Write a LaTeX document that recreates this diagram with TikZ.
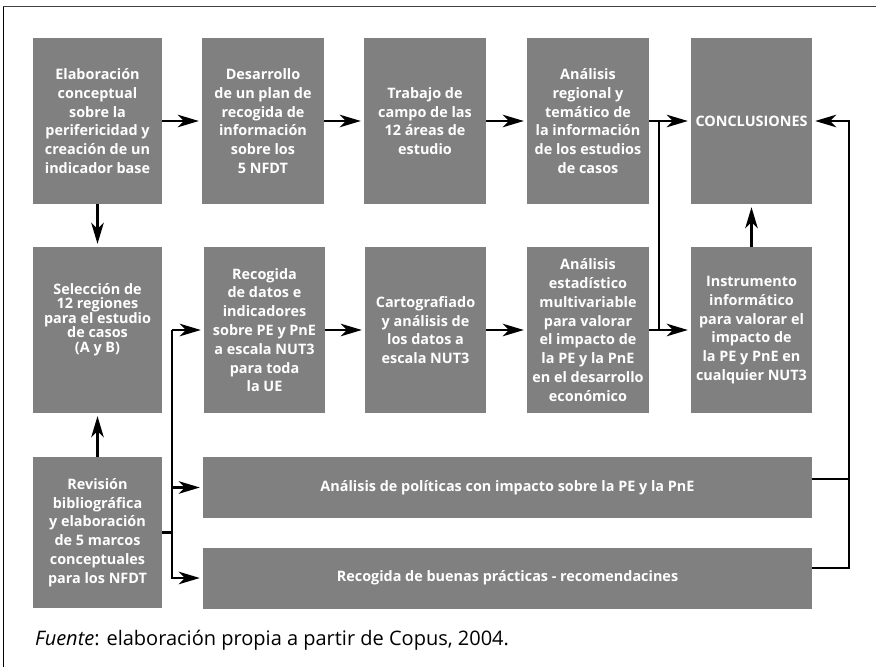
\documentclass[tikz,border=0pt]{standalone}
\usepackage{fontspec}
\setmainfont{Open Sans}
\usetikzlibrary{arrows.meta}
\definecolor{boxgray}{HTML}{808080}
\definecolor{framegray}{HTML}{404040}
\tikzset{
  box/.style={fill=boxgray, text=white, inner sep=0pt, align=center,
    font=\bfseries\fontsize{14.4}{18.8}\selectfont},
  narrowbox/.style={box, minimum width=122pt, minimum height=166pt},
  widebox/.style={box, minimum width=129pt, minimum height=166pt},
  longbox/.style={box, minimum width=609pt, minimum height=61pt},
  conn/.style={line width=2.3pt, line join=miter},
  arr/.style={conn, -{Stealth[length=21pt, width=12.5pt, inset=6pt]}, shorten >=3pt},
}
\begin{document}
\begin{tikzpicture}[x=1pt, y=-1pt]
\useasboundingbox (0,0) rectangle (876,667);
% frame
\draw[framegray, line width=1.6pt] (3.3,6.5) -- (876,6.5);
\draw[black, line width=1pt] (3.3,6.5) -- (3.3,667);

% first row
\node[widebox]  (b1) at (97.5,121) {Elaboración\\conceptual\\sobre la\\perifericidad y\\creación de un\\indicador base};
\node[narrowbox] (b2) at (263,121) {Desarrollo\\de un plan de\\recogida de\\información\\sobre los\\5 NFDT};
\node[narrowbox] (b3) at (425,121) {Trabajo de\\campo de las\\12 áreas de\\estudio};
\node[narrowbox] (b4) at (588,121) {Análisis\\regional y\\temático de\\la información\\de los estudios\\de casos};
\node[narrowbox, minimum width=121pt] (b5) at (751.5,121) {CONCLUSIONES};

% second row
\node[widebox]  (b6) at (97.5,330) {};
\node[box, font=\bfseries\fontsize{14.4}{14.5}\selectfont] (t6) at ([yshift=10.5pt]b6.center) {Selección de\\12 regiones\\para el estudio\\de casos\\(A y B)};
\node[narrowbox, minimum width=121pt] (b7) at (264.5,330) {Recogida\\de datos e\\indicadores\\sobre PE y PnE\\a escala NUT3\\para toda\\la UE};
\node[narrowbox, minimum width=121pt] (b8) at (425.5,330) {Cartografiado\\y análisis de\\los datos a\\escala NUT3};
\node[narrowbox] (b9) at (588,330) {Análisis\\estadístico\\multivariable\\para valorar\\el impacto de\\la PE y la PnE\\en el desarrollo\\económico};
\node[narrowbox, minimum width=121pt] (b10) at (751.5,330) {Instrumento\\informático\\para valorar el\\impacto de\\la PE y PnE en\\cualquier NUT3};

% third row
\node[widebox, minimum height=151pt] (b11) at (97.5,532.5) {Revisión\\bibliográfica\\y elaboración\\de 5 marcos\\conceptuales\\para los NFDT};
\node[longbox] (l1) at (507.5,487.5) {Análisis de políticas con impacto sobre la PE y la PnE};
\node[longbox] (l2) at (507.5,578) {Recogida de buenas prácticas - recomendacines};

% bus lines
\coordinate (lb) at (172,0);
\coordinate (jr) at (659,0);
\coordinate (rr) at (849,0);

% connectors, first row
\draw[arr] (b1.east) -- (b2.west);
\draw[arr] (b2.east) -- (b3.west);
\draw[arr] (b3.east) -- (b4.west);
\draw[arr] (b4.east) -- (b5.west);
\draw[arr] (b1.south) -- (b6.north);

% connectors, second row
\draw[arr] (b7.east) -- (b8.west);
\draw[arr] (b8.east) -- (b9.west);
\draw[arr] (b9.east) -- (b10.west);
\draw[conn] (jr |- b9.east) -- (jr |- b4.east);
\draw[arr] (b10.north) -- (b5.south);

% connectors from the bibliographic review
\draw[arr] (b11.north) -- (b6.south);
\draw[conn] (b11.east) -- (b11.east -| lb);
\draw[arr] (lb |- b7.west) -- (b7.west);
\draw[arr] (lb |- b7.west) |- (l2.west);
\draw[arr] (lb |- l1.west) -- (l1.west);

% feedback to the conclusions
\draw[conn] ([yshift=8.5pt]l1.east) -- ([yshift=8.5pt]l1.east -| rr);
\draw[arr] ([yshift=10pt]l2.east) -| (rr |- b5.east) -- (b5.east);

% source
\node[anchor=base west, inner sep=0pt, font=\fontsize{20}{22}\selectfont] (src) at (35,645) {\textit{Fuente}: elaboración propia a partir de Copus, 2004.};
\end{tikzpicture}
\end{document}
